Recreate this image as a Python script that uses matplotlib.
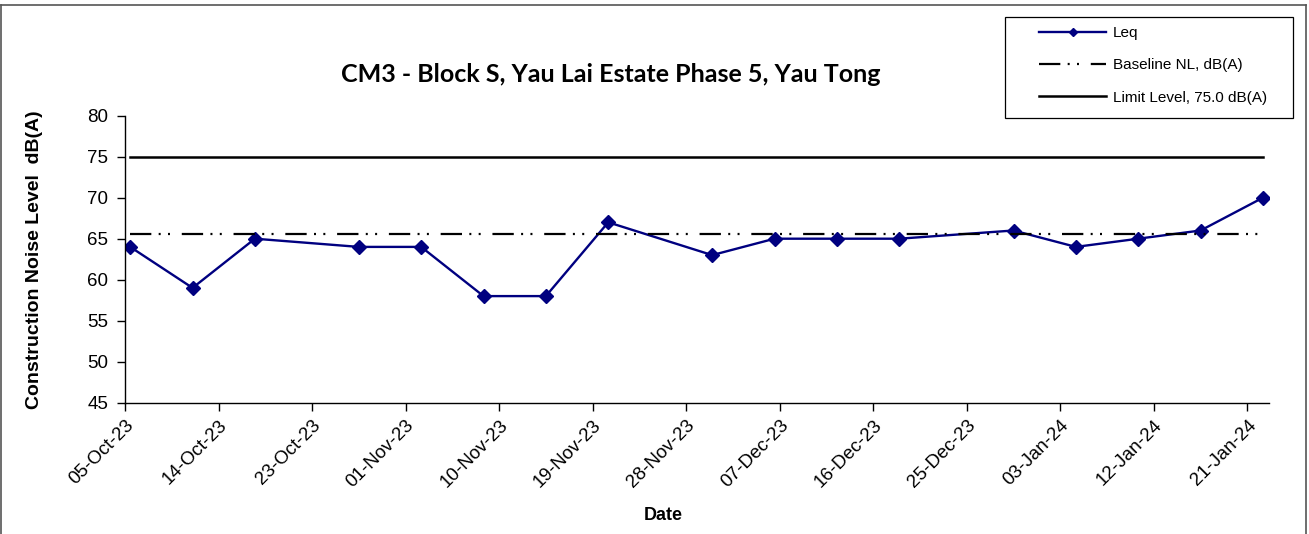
import pandas as pd
import matplotlib
matplotlib.use("Agg")
import matplotlib.pyplot as plt
import matplotlib.dates as mdates
from matplotlib.lines import Line2D

plt.rcParams['font.family'] = ['Liberation Sans', 'DejaVu Sans']

# monitoring results at CM3
dates = ["2023-10-05", "2023-10-11", "2023-10-17", "2023-10-27", "2023-11-02",
         "2023-11-08", "2023-11-14", "2023-11-20", "2023-11-30", "2023-12-06",
         "2023-12-12", "2023-12-18", "2023-12-29", "2024-01-04", "2024-01-10",
         "2024-01-16", "2024-01-22"]
leq = [64, 59, 65, 64, 64, 58, 58, 67, 63, 65, 65, 65, 66, 64, 65, 66, 70]
baseline = 65.6
limit = 75.0

tick_start = "2023-10-05"
tick_end = "2024-01-21"
x_end = "2024-01-23 02:00"

# Excel date axis puts each point in the middle of its day
x = pd.to_datetime(dates) + pd.Timedelta(hours=12)

fig = plt.figure(figsize=(13.09, 5.34), dpi=100)
ax = fig.add_axes([125/1309, 1-402.7/534, 1144/1309, 287/534])

ax.plot(x, leq, color="#000080", lw=1.7, marker="D", ms=7.5,
        label="Leq")
ax.plot(x, [baseline]*len(x), color="black", lw=1.6,
        dashes=(9.6, 3.3, 0.9, 3.3, 0.9, 5.3), label="Baseline NL, dB(A)")
ax.plot(x, [limit]*len(x), color="black", lw=1.8,
        label="Limit Level, 75.0 dB(A)")

ax.set_ylim(45, 80)
ax.set_yticks(range(45, 81, 5))
ax.set_xlim(pd.Timestamp(tick_start), pd.Timestamp(x_end))
ax.set_xticks(pd.date_range(tick_start, tick_end, freq="9D"))
ax.xaxis.set_major_formatter(mdates.DateFormatter("%d-%b-%y"))
for lab in ax.get_xticklabels():
    lab.set_rotation(45)
    lab.set_ha("right")
    lab.set_rotation_mode("anchor")

ax.tick_params(axis="both", labelsize=13.5, length=6, width=1, color="black",
               direction="out")
ax.tick_params(axis="y", pad=6)
ax.tick_params(axis="x", pad=4)
for s in ["top", "right"]:
    ax.spines[s].set_visible(False)
for s in ["left", "bottom"]:
    ax.spines[s].set_linewidth(1)

ax.set_ylabel("Construction Noise Level  dB(A)", fontsize=14, fontweight="bold")
ax.yaxis.set_label_coords(-0.0717, 0.5)
fig.text(663/1309, 1-515/534, "Date", fontsize=13, fontweight="bold",
         ha="center", va="center")
fig.text(611/1309, 1-74/534, "CM3 - Block S, Yau Lai Estate Phase 5, Yau Tong",
         fontsize=18, fontweight="bold", family=["Lato", "DejaVu Sans"],
         ha="center", va="center")

# legend box
fig.add_artist(plt.Rectangle((1005/1309, 1-118/534), 288/1309, 101/534,
                             transform=fig.transFigure, fill=False,
                             edgecolor="black", lw=0.9))
fig.legend(loc="upper left", bbox_to_anchor=(1039/1309, 1-26/534),
           frameon=False, fontsize=11, handlelength=4.4, handletextpad=0.45,
           labelspacing=1.2, borderpad=0, borderaxespad=0, markerscale=0.5)

# chart border
for xs, ys in [([1/1309, 1306/1309], [1-5/534, 1-5/534]),
               ([1/1309, 1/1309], [0, 1-5/534]),
               ([1306/1309, 1306/1309], [0, 1-5/534])]:
    fig.add_artist(Line2D(xs, ys, transform=fig.transFigure, color="#555555", lw=1.2))

fig.savefig("out.png", dpi=100)
